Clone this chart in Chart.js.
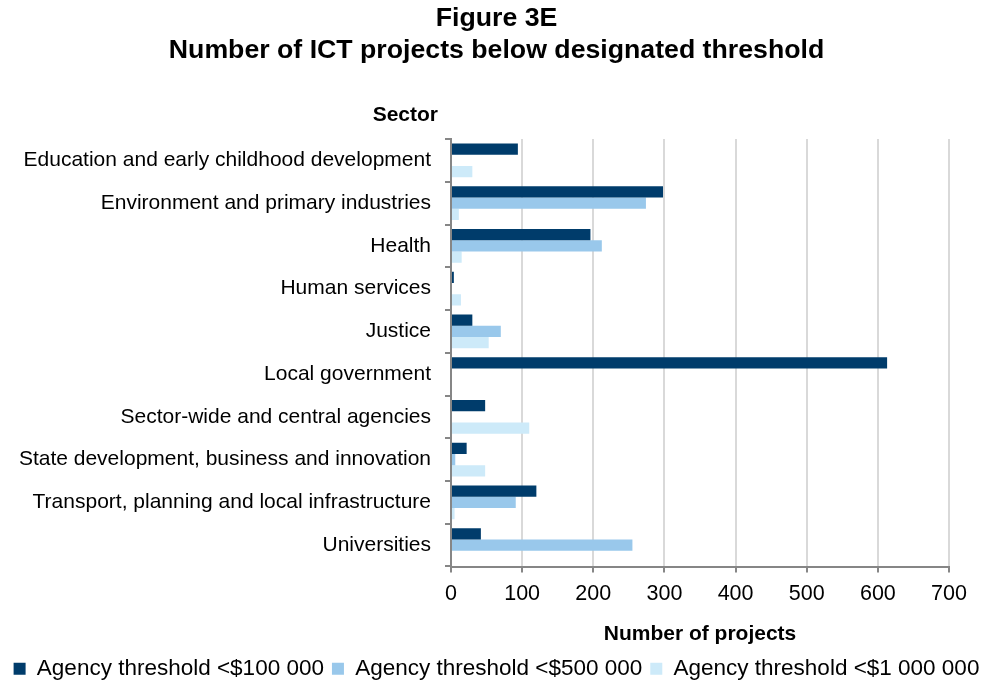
<!DOCTYPE html>
<html>
<head>
<meta charset="utf-8">
<script src="https://cdn.jsdelivr.net/npm/chart.js@4.4.1/dist/chart.umd.min.js"></script>
<style>
  html, body { margin: 0; padding: 0; background: #fff; }
  #wrap { width: 993px; height: 682px; }
</style>
</head>
<body>
<div id="wrap"><canvas id="myChart" width="993" height="682"></canvas></div>
<script>
const sectors = [
    "Education and early childhood development",
    "Environment and primary industries",
    "Health",
    "Human services",
    "Justice",
    "Local government",
    "Sector-wide and central agencies",
    "State development, business and innovation",
    "Transport, planning and local infrastructure",
    "Universities"
];
const under100k = [94, 298, 196, 4, 30, 613, 48, 22, 120, 42];
const under500k = [0, 274, 212, 0, 70, 0, 0, 6, 91, 255];
const under1m   = [30, 11, 15, 14, 53, 0, 110, 48, 5, 0];
const xTicks = [0, 100, 200, 300, 400, 500, 600, 700];

const FONT = "Arial, 'Liberation Sans', sans-serif";
Chart.defaults.font.family = FONT;
Chart.defaults.color = "#000";

// "Sector" heading sits above the category labels
const sectorLabel = {
    id: "sectorLabel",
    afterDraw(chart) {
        const ctx = chart.ctx;
        ctx.save();
        ctx.font = "bold 21px " + FONT;
        ctx.fillStyle = "#000";
        ctx.textAlign = "right";
        ctx.textBaseline = "middle";
        ctx.fillText("Sector", 438, 115);
        ctx.restore();
    }
};

const CHART = document.getElementById("myChart");
let barChart = new Chart(CHART, {
    type: "bar",
    plugins: [sectorLabel],
    data: {
        labels: sectors,
        datasets: [
            { label: "Agency threshold <$100 000", data: under100k, backgroundColor: "#003c6b" },
            { label: "Agency threshold <$500 000", data: under500k, backgroundColor: "#99c8eb" },
            { label: "Agency threshold <$1 000 000", data: under1m, backgroundColor: "#cdeaf9" }
        ]
    },
    options: {
        indexAxis: "y",
        responsive: false,
        animation: false,
        maintainAspectRatio: false,
        layout: { padding: { left: 0, right: 0, top: 0, bottom: -8 } },
        datasets: {
            bar: { categoryPercentage: 0.79, barPercentage: 1.0 }
        },
        plugins: {
            title: {
                display: true,
                text: ["Figure 3E", "Number of ICT projects below designated threshold"],
                font: { size: 26.7, weight: "bold" },
                lineHeight: 1.25,
                padding: { top: 3, bottom: 72 },
                color: "#000"
            },
            legend: {
                position: "bottom",
                labels: {
                    boxWidth: 12,
                    boxHeight: 12,
                    padding: 8,
                    font: { size: 22.5 },
                    color: "#000"
                }
            },
            tooltip: { enabled: false }
        },
        scales: {
            x: {
                min: 0,
                max: 700,
                afterBuildTicks(scale) {
                    scale.ticks = xTicks.map(v => ({ value: v }));
                },
                afterFit(scale) { scale.height = 83; },
                grid: {
                    color: "#d9d9d9",
                    lineWidth: 2,
                    tickColor: "#868686",
                    tickLength: 6,
                    drawTicks: true
                },
                border: { color: "#868686", width: 2 },
                ticks: { font: { size: 21.5 }, padding: 9, color: "#000" },
                title: {
                    display: true,
                    text: "Number of projects",
                    font: { size: 21, weight: "bold" },
                    padding: { top: 8, bottom: 3 },
                    color: "#000"
                }
            },
            y: {
                afterFit(scale) { scale.width = 451; },
                grid: {
                    drawOnChartArea: false,
                    tickColor: "#868686",
                    tickLength: 6,
                    lineWidth: 2,
                    offset: true
                },
                border: { color: "#868686", width: 2 },
                ticks: { font: { size: 21 }, padding: 14, color: "#000", autoSkip: false }
            },
            // empty right-hand spacer so the plot ends at 700 without narrowing the legend
            spacer: {
                type: "linear",
                axis: "y",
                position: "right",
                grid: { display: false },
                border: { display: false },
                ticks: { display: false },
                afterFit(scale) { scale.width = 44; }
            }
        }
    }
});
</script>
</body>
</html>
